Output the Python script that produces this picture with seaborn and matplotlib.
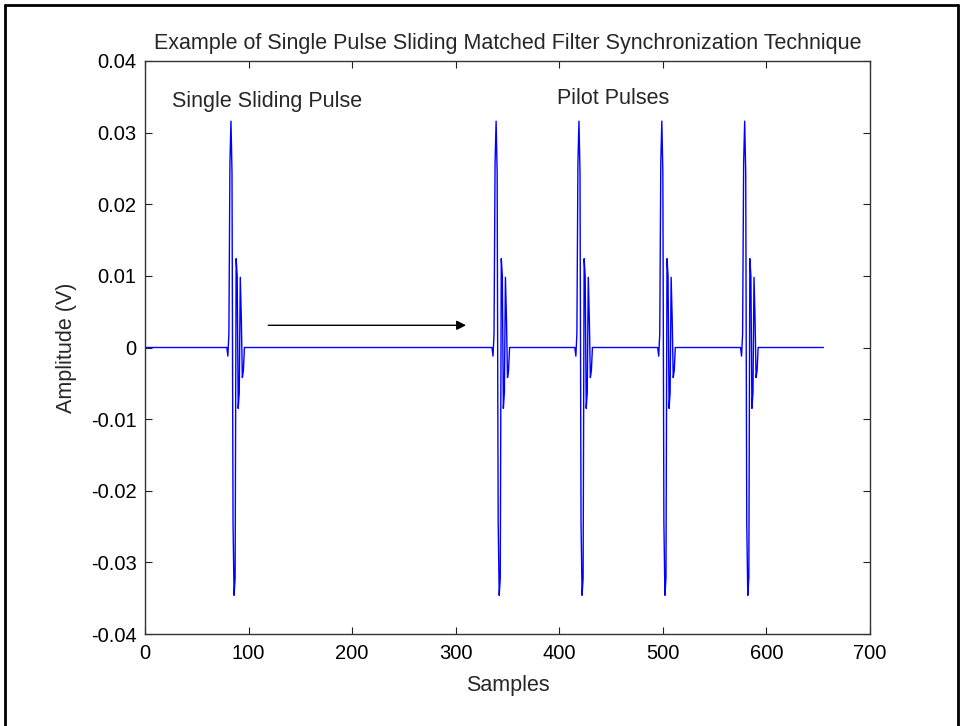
import numpy as np
import pandas as pd
import seaborn as sns
import matplotlib
matplotlib.use("Agg")
import matplotlib.pyplot as plt
from matplotlib.lines import Line2D

# ---- data ----
n_samples = 655
pulse_shape = [-0.0012, 0.0019, 0.0258, 0.0316, 0.0244, -0.0245, -0.0346, -0.0322,
               0.0124, 0.0100, -0.0085, -0.0063, 0.0098, 0.0040, -0.0042, -0.0032, 0.0]
pulse_starts = [80, 336, 416, 496, 576]

title = "Example of Single Pulse Sliding Matched Filter Synchronization Technique"
xlabel = "Samples"
ylabel = "Amplitude (V)"
xticks = [0, 100, 200, 300, 400, 500, 600, 700]
yticks = [-0.04, -0.03, -0.02, -0.01, 0, 0.01, 0.02, 0.03, 0.04]
ytick_labels = ["-0.04", "-0.03", "-0.02", "-0.01", "0", "0.01", "0.02", "0.03", "0.04"]
ann1 = ("Single Sliding Pulse", 26, 0.0344)
ann2 = ("Pilot Pulses", 398, 0.0348)
arrow_from = (119, 0.0031)
arrow_to = (310, 0.0031)

# build the signal from the read pulse values
samples = np.arange(1, n_samples + 1)
amp = np.zeros(n_samples)
for s in pulse_starts:
    amp[s - 1:s - 1 + len(pulse_shape)] = pulse_shape
df = pd.DataFrame({"Samples": samples, "Amplitude": amp})

sns.set_theme(style="white")
plt.rcParams["font.family"] = ["Liberation Sans", "DejaVu Sans"]

fig = plt.figure(figsize=(9.63, 7.26), dpi=100)
ax = fig.add_axes([145 / 963, 1 - 634 / 726, (870 - 145) / 963, (634 - 61) / 726])

sns.lineplot(data=df, x="Samples", y="Amplitude", ax=ax, color="#0000ff",
             linewidth=1.0, estimator=None, sort=False)

fs = 15.5
ax.set_xlim(0, 700)
ax.set_ylim(-0.04, 0.04)
ax.set_xticks(xticks)
ax.set_xticklabels([str(t) for t in xticks])
ax.set_yticks(yticks)
ax.set_yticklabels(ytick_labels)
ax.tick_params(direction="in", length=5, width=0.8, colors="#222222",
               labelcolor="black", labelsize=14.5, top=True, right=True,
               bottom=True, left=True)
ax.tick_params(axis="y", pad=6)
ax.tick_params(axis="x", pad=7)
for sp in ax.spines.values():
    sp.set_color("#333333")
    sp.set_linewidth(1.0)

ax.set_title(title, fontsize=fs, pad=9)
ax.set_xlabel(xlabel, fontsize=fs, labelpad=9)
ax.set_ylabel(ylabel, fontsize=fs, labelpad=10)

ax.text(ann1[1], ann1[2], ann1[0], fontsize=fs, ha="left", va="center")
ax.text(ann2[1], ann2[2], ann2[0], fontsize=fs, ha="left", va="center")
ax.annotate("", xy=arrow_to, xytext=arrow_from,
            arrowprops=dict(arrowstyle="-|>", color="black", lw=1.0,
                            mutation_scale=14, shrinkA=0, shrinkB=0))

# outer frame
fw = 2.0
fig.add_artist(Line2D([5 / 963, 5 / 963], [0, 1 - 5 / 726], transform=fig.transFigure, color="black", lw=fw))
fig.add_artist(Line2D([5 / 963, 958 / 963], [1 - 5 / 726, 1 - 5 / 726], transform=fig.transFigure, color="black", lw=fw))
fig.add_artist(Line2D([958 / 963, 958 / 963], [0, 1 - 5 / 726], transform=fig.transFigure, color="black", lw=fw))

fig.savefig("out.png", dpi=100)
